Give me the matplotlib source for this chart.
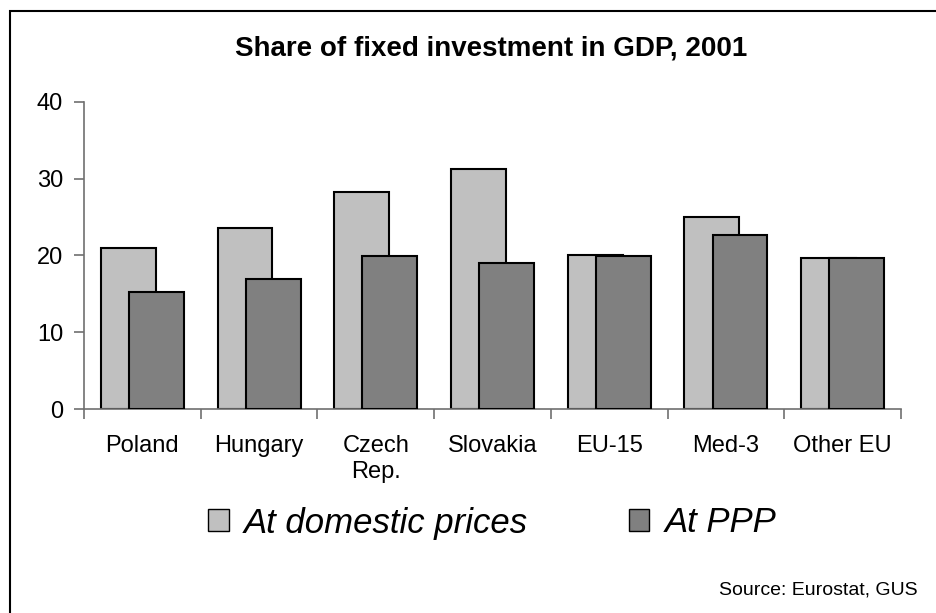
import matplotlib
matplotlib.use("Agg")
import matplotlib.pyplot as plt
from matplotlib.patches import Rectangle, Patch
import numpy as np

plt.rcParams['font.family'] = ['Liberation Sans', 'DejaVu Sans']

categories = ["Poland", "Hungary", "Czech\nRep.", "Slovakia", "EU-15", "Med-3", "Other EU"]
domestic = [21.0, 23.5, 28.2, 31.2, 20.1, 25.0, 19.6]
ppp = [15.2, 16.9, 19.9, 19.0, 19.9, 22.6, 19.6]
series_names = ["At domestic prices", "At PPP"]
yticks = [0, 10, 20, 30, 40]

W, H = 937, 613
fig = plt.figure(figsize=(W / 100, H / 100), dpi=100)
ax = fig.add_axes([84 / W, 1 - 409 / H, (901 - 84) / W, (409 - 101.7) / H])

x = np.arange(len(categories))
bw = 0.47
off = 0.12
light = "#C0C0C0"
dark = "#808080"
ax.bar(x - off, domestic, width=bw, color=light, edgecolor="black", linewidth=1.5, zorder=2)
ax.bar(x + off, ppp, width=bw, color=dark, edgecolor="black", linewidth=1.5, zorder=3)

ax.set_xlim(-0.5, len(categories) - 0.5)
ax.set_ylim(0, 40)
ax.set_yticks(yticks)
ax.set_yticklabels([str(v) for v in yticks])
ax.set_xticks(x)
ax.set_xticklabels(categories)
ax.set_xticks(np.arange(len(categories) + 1) - 0.5, minor=True)

spine_c = "#707070"
for s in ["top", "right"]:
    ax.spines[s].set_visible(False)
for s in ["left", "bottom"]:
    ax.spines[s].set_color(spine_c)
    ax.spines[s].set_linewidth(1.2)
ax.tick_params(axis="y", length=7, width=1.2, color=spine_c, labelsize=17, pad=8)
ax.tick_params(axis="x", which="major", length=0, labelsize=17, pad=19)
ax.tick_params(axis="x", which="minor", length=7, width=1.2, color=spine_c)

fig.text(0.5 * (84 + 901) / W - 0.002, 1 - 48 / H, "Share of fixed investment in GDP, 2001",
         ha="center", va="center", fontsize=20, fontweight="bold")

handles = [Patch(facecolor=light, edgecolor="black", linewidth=1.0),
           Patch(facecolor=dark, edgecolor="black", linewidth=1.0)]
fig.legend(handles, series_names, loc="center", bbox_to_anchor=(492 / W, 1 - 523 / H),
           ncol=2, frameon=False, prop={"size": 25, "style": "italic"},
           handlelength=0.6, handleheight=0.6, handletextpad=0.43, columnspacing=2.9)

fig.text(918 / W, 1 - 590 / H, "Source: Eurostat, GUS", ha="right", va="center", fontsize=14)

# outer frame (left and top edges visible, right/bottom past the canvas)
fig.patches.append(Rectangle((10 / W, -0.1), 1.2, 1.1 - 11.5 / H, transform=fig.transFigure,
                             fill=False, edgecolor="black", linewidth=1.5))

fig.savefig("out.png", dpi=100)
